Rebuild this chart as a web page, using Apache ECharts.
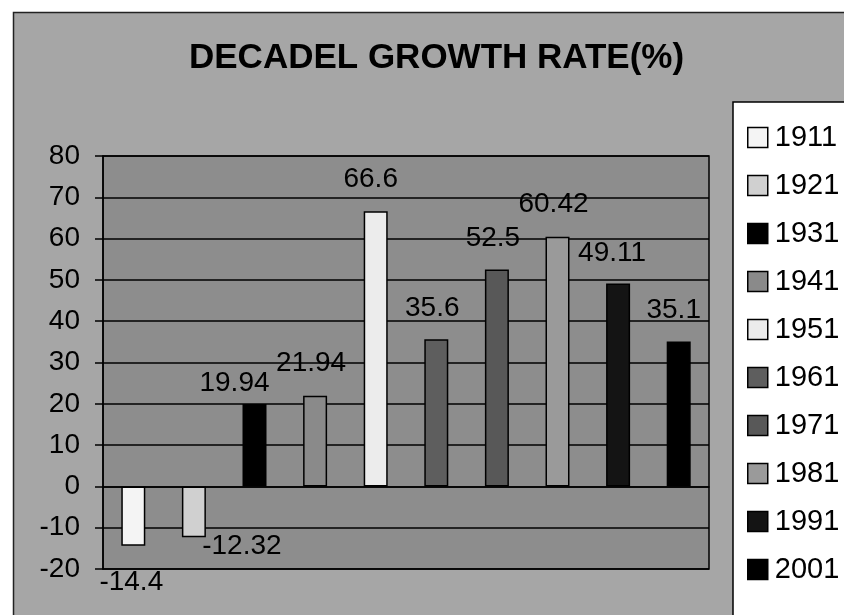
<!DOCTYPE html>
<html>
<head>
<meta charset="utf-8">
<script src="https://cdn.jsdelivr.net/npm/echarts@6/dist/echarts.min.js"></script>
<style>
html,body{margin:0;padding:0;background:#fff;}
#chart{width:844px;height:615px;}
</style>
</head>
<body>
<div id="chart"></div>
<script>
const years = ['1911','1921','1931','1941','1951','1961','1971','1981','1991','2001'];
const growthRate = [-14.4, -12.32, 19.94, 21.94, 66.6, 35.6, 52.5, 60.42, 49.11, 35.1];
const yTicks = [-20, -10, 0, 10, 20, 30, 40, 50, 60, 70, 80];

const barColors = ['#f4f4f4','#d0d0d0','#000000','#8a8a8a','#ececec','#5e5e5e','#585858','#9a9a9a','#141414','#000000'];
const labelOffsets = [[-2,17],[48,-10],[-20,-2],[-4,-14],[-5,-13],[-4,-12],[-4,-12],[-4,-14],[-6,-11],[-5,-12]];

const FONT = '"Liberation Sans", Arial, sans-serif';

const series = years.map((y, i) => {
  const data = years.map((_, j) => {
    if (j !== i) return '-';
    const v = growthRate[j];
    return {
      value: v,
      label: {
        position: v < 0 ? 'bottom' : 'top',
        offset: labelOffsets[j]
      }
    };
  });
  return {
    name: y,
    type: 'bar',
    data: data,
    barWidth: 24,
    barGap: '-100%',
    itemStyle: { color: barColors[i], borderColor: '#000', borderWidth: 1.5 },
    label: {
      show: true,
      color: '#000',
      fontSize: 28,
      fontFamily: FONT,
      distance: 5
    },
    emphasis: { disabled: true },
    z: 3
  };
});

const chart = echarts.init(document.getElementById('chart'), null, { renderer: 'canvas' });
chart.setOption({
  animation: false,
  backgroundColor: '#ffffff',
  title: {
    text: 'DECADEL GROWTH RATE(%)',
    left: 184,
    top: 36,
    textStyle: { fontSize: 35, fontWeight: 'bold', color: '#000', fontFamily: FONT }
  },
  graphic: [
    { type: 'rect', z: -10, shape: { x: 13.5, y: 12.5, width: 840, height: 610 },
      style: { fill: '#a6a6a6', stroke: '#222', lineWidth: 1.5 } },
    { type: 'rect', z: 1, shape: { x: 733, y: 102, width: 120, height: 520 },
      style: { fill: '#ffffff', stroke: '#000', lineWidth: 1.5 } }
  ],
  legend: {
    orient: 'vertical',
    left: 742,
    top: 118,
    z: 5,
    itemWidth: 20,
    itemHeight: 20,
    itemGap: 19,
    icon: 'rect',
    selectedMode: false,
    data: years,
    itemStyle: { borderColor: '#000', borderWidth: 1.5 },
    textStyle: { fontSize: 29, color: '#000', fontFamily: FONT, padding: [0,0,0,2] }
  },
  grid: {
    left: 103, right: 135, top: 156, bottom: 46,
    show: true,
    backgroundColor: '#8d8d8d',
    borderColor: '#000',
    borderWidth: 1.5
  },
  xAxis: {
    type: 'category',
    data: years,
    axisLine: { show: true, onZero: true, lineStyle: { color: '#000', width: 1.5 } },
    axisTick: { show: false },
    axisLabel: { show: false },
    splitLine: { show: false }
  },
  yAxis: {
    type: 'value',
    min: yTicks[0],
    max: yTicks[yTicks.length - 1],
    interval: 10,
    axisLine: { show: true, lineStyle: { color: '#000', width: 1.5 } },
    axisTick: { show: true, inside: false, length: 8, lineStyle: { color: '#000', width: 1.5 } },
    axisLabel: { color: '#000', fontSize: 28, fontFamily: FONT, margin: 23 },
    splitLine: { show: true, lineStyle: { color: '#000', width: 1.5 } }
  },
  series: series
});
</script>
</body>
</html>
